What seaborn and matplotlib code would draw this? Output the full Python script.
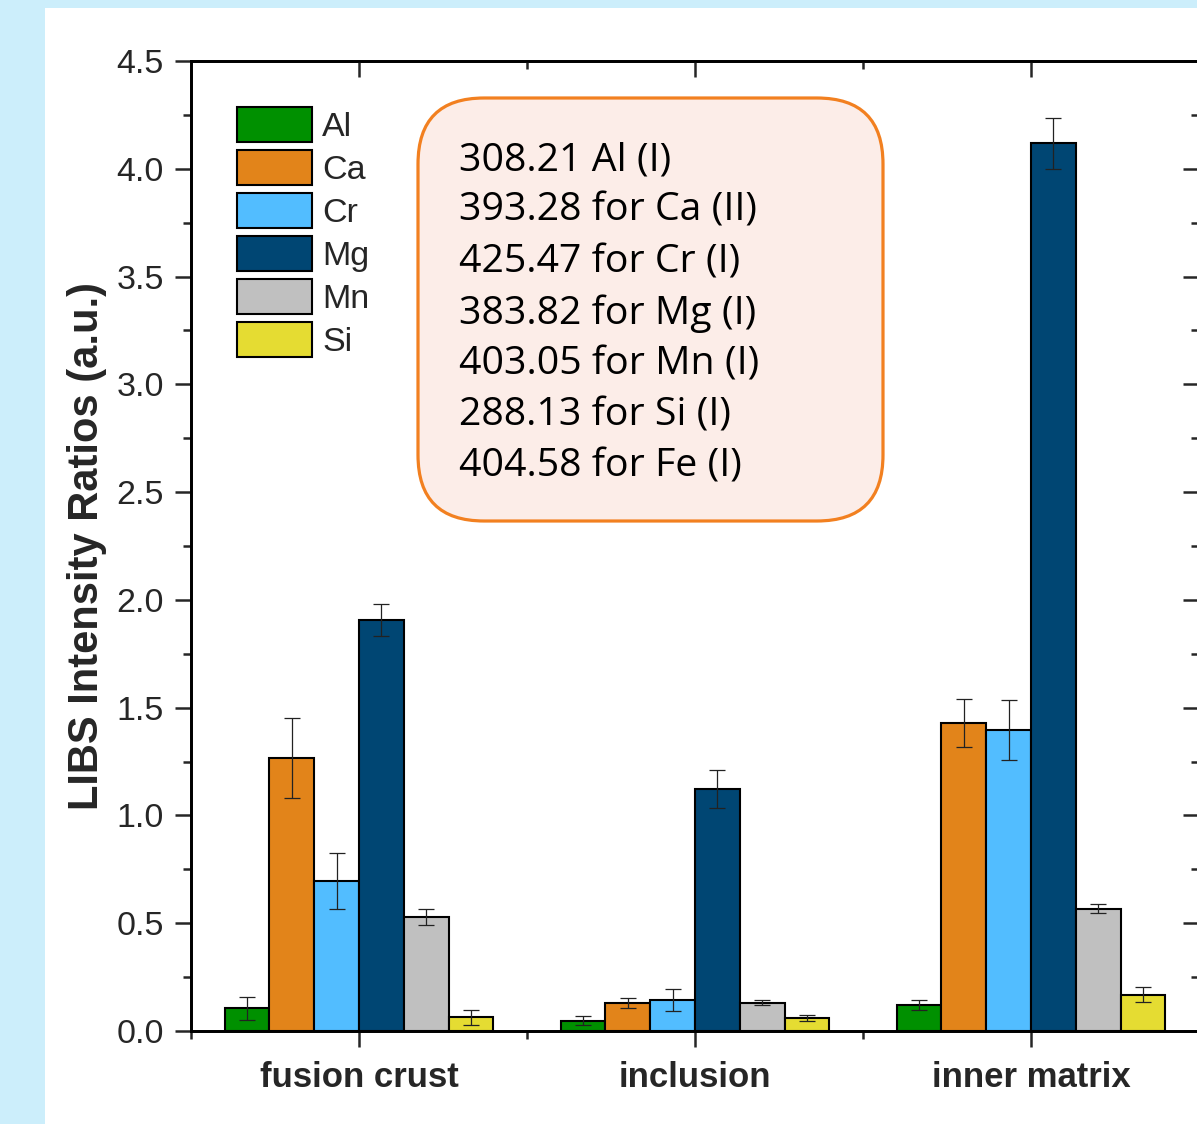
import numpy as np
import pandas as pd
import matplotlib
matplotlib.use("Agg")
import matplotlib.pyplot as plt
import seaborn as sns
from matplotlib.patches import FancyBboxPatch, Rectangle
from matplotlib.ticker import MultipleLocator, FormatStrFormatter, FixedLocator

# ---------------- data ----------------
regions = ["fusion crust", "inclusion", "inner matrix"]
elements = ["Al", "Ca", "Cr", "Mg", "Mn", "Si"]

al = [0.105, 0.048, 0.119]
ca = [1.265, 0.130, 1.429]
cr = [0.695, 0.143, 1.396]
mg = [1.907, 1.121, 4.118]
mn = [0.527, 0.132, 0.567]
si = [0.063, 0.060, 0.169]

al_err = [0.055, 0.020, 0.023]
ca_err = [0.185, 0.025, 0.110]
cr_err = [0.130, 0.050, 0.140]
mg_err = [0.076, 0.088, 0.118]
mn_err = [0.037, 0.010, 0.020]
si_err = [0.036, 0.013, 0.034]

colors = ["#009000", "#E2841A", "#52BDFF", "#004673", "#C0C0C0", "#E5DC32"]

box_lines = [
    "308.21 Al (I)",
    "393.28 for Ca (II)",
    "425.47 for Cr (I)",
    "383.82 for Mg (I)",
    "403.05 for Mn (I)",
    "288.13 for Si (I)",
    "404.58 for Fe (I)",
]

values = [al, ca, cr, mg, mn, si]
errors = [al_err, ca_err, cr_err, mg_err, mn_err, si_err]

df = pd.DataFrame(
    [(r, e, v[i]) for e, v in zip(elements, values) for i, r in enumerate(regions)],
    columns=["region", "element", "value"],
)

# ---------------- figure ----------------
sns.set_style("ticks")
plt.rcParams["font.family"] = ["Liberation Sans", "DejaVu Sans"]

W, H = 1197, 1124
fig = plt.figure(figsize=(W / 100, H / 100), dpi=100)
fig.patch.set_facecolor("#CCEEFB")
fig.patches.append(Rectangle((45 / W, 0), 1.0, (H - 8) / H, transform=fig.transFigure,
                             facecolor="white", edgecolor="none", zorder=-10))

ax = fig.add_axes([191 / W, (H - 1031) / H, (1199 - 191) / W, 970 / H])
ax.set_facecolor("white")

sns.barplot(data=df, x="region", y="value", hue="element", order=regions,
            hue_order=elements, palette=colors, saturation=1, edgecolor="black",
            linewidth=1.5, errorbar=None, width=0.8, ax=ax, zorder=2)

for cont, errs in zip(ax.containers, errors):
    xs = [b.get_x() + b.get_width() / 2 for b in cont]
    ys = [b.get_height() for b in cont]
    ax.errorbar(xs, ys, yerr=errs, fmt="none", ecolor="#222222", elinewidth=0.9,
                capsize=5.8, capthick=0.9, zorder=3)

ax.set_xlim(-0.5, 2.5)
ax.set_ylim(0, 4.5)
ax.yaxis.set_major_locator(MultipleLocator(0.5))
ax.yaxis.set_minor_locator(MultipleLocator(0.25))
ax.yaxis.set_major_formatter(FormatStrFormatter("%.1f"))
ax.xaxis.set_minor_locator(FixedLocator([-0.5, 0.5, 1.5, 2.5]))

ax.tick_params(which="major", direction="out", length=11.5, width=1.8, labelsize=24.5,
               pad=8, top=False, right=False)
ax.tick_params(which="minor", direction="out", length=5.8, width=1.8, top=False, right=False)
ax.tick_params(axis="x", which="major", pad=10)
for lab in ax.get_xticklabels():
    lab.set_fontweight("bold")
    lab.set_fontsize(25)

ax.set_xlabel("")
ax.set_ylabel("LIBS Intensity Ratios (a.u.)", fontsize=30, fontweight="bold", labelpad=7)

for sp in ax.spines.values():
    sp.set_linewidth(1.8)
    sp.set_color("black")
    sp.set_visible(True)

# right ticks (inward)
axr = ax.twinx()
axr.set_ylim(0, 4.5)
axr.yaxis.set_major_locator(MultipleLocator(0.5))
axr.yaxis.set_minor_locator(MultipleLocator(0.25))
axr.tick_params(which="major", direction="in", length=11.5, width=1.8, labelright=False)
axr.tick_params(which="minor", direction="in", length=5.8, width=1.8)
# top ticks (inward)
axt = ax.twiny()
axt.set_xlim(-0.5, 2.5)
axt.xaxis.set_major_locator(FixedLocator([0, 1, 2]))
axt.xaxis.set_minor_locator(FixedLocator([-0.5, 0.5, 1.5, 2.5]))
axt.tick_params(which="major", direction="in", length=11.5, width=1.8, labeltop=False)
axt.tick_params(which="minor", direction="in", length=5.8, width=1.8)
for a in (axr, axt):
    for sp in a.spines.values():
        sp.set_linewidth(1.8)
        sp.set_color("black")

# legend
handles, labels = ax.get_legend_handles_labels()
if ax.get_legend() is not None:
    ax.get_legend().remove()
leg = axt.legend(handles, labels, loc="upper left", bbox_to_anchor=(237 / W, (H - 107) / H),
                 bbox_transform=fig.transFigure, frameon=False, fontsize=24.5,
                 handlelength=2.2, handleheight=1.22, labelspacing=0.2,
                 handletextpad=0.3, borderpad=0, borderaxespad=0)
for h in leg.legend_handles:
    h.set_edgecolor("black")
    h.set_linewidth(1.5)

# text box
box = FancyBboxPatch((418 / 100, (H - 521) / 100), 465 / 100, 423 / 100,
                     boxstyle="round,pad=0,rounding_size=0.66",
                     transform=fig.dpi_scale_trans, facecolor="#FCEDE8",
                     edgecolor="#F28020", linewidth=2.3, zorder=5)
fig.patches.append(box)
baselines = [170, 221, 272, 324, 375, 426, 477]
for txt, yb in zip(box_lines, baselines):
    fig.text(459 / W, (H - yb) / H, txt, fontsize=28.3, family=["Open Sans", "DejaVu Sans"],
             ha="left", va="baseline", color="black", zorder=6)

fig.savefig("out.png", dpi=100, facecolor=fig.get_facecolor())
